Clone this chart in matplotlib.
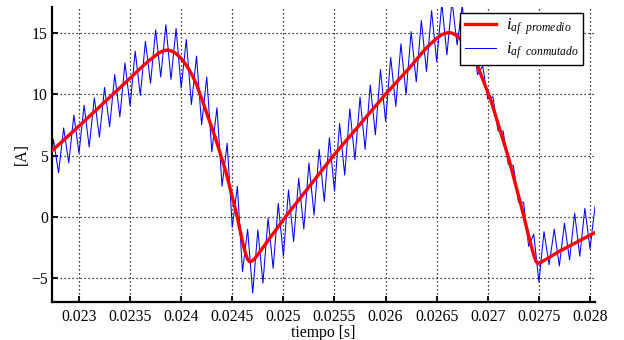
import numpy as np
import matplotlib
matplotlib.use("Agg")
import matplotlib.pyplot as plt

plt.rcParams['font.family'] = ['Liberation Serif', 'DejaVu Serif']
plt.rcParams['mathtext.fontset'] = 'custom'
plt.rcParams['mathtext.it'] = 'Liberation Serif:italic'
plt.rcParams['mathtext.rm'] = 'Liberation Serif'

# averaged current
t_prom = [0.02273, 0.02300, 0.02325, 0.02350, 0.02360, 0.02368, 0.02375, 0.02379,
          0.02383, 0.02387, 0.02391, 0.02395, 0.02399, 0.02403, 0.02407, 0.02411,
          0.02415, 0.02424, 0.02434, 0.02444, 0.02454, 0.02460, 0.02463, 0.02465,
          0.02467, 0.02469, 0.02472, 0.02502, 0.02549, 0.02600, 0.02624, 0.02637,
          0.02644, 0.02650, 0.02655, 0.02660, 0.02664, 0.02668, 0.02672, 0.02676,
          0.02680, 0.02684, 0.02690, 0.02703, 0.02720, 0.02733, 0.02741, 0.02745,
          0.02747, 0.02749, 0.02752, 0.02770, 0.02810]
i_prom = [5.35, 7.4, 9.35, 11.3, 12.1, 12.7, 13.15, 13.4,
          13.55, 13.6, 13.5, 13.3, 13.0, 12.6, 12.1, 11.5,
          10.8, 8.7, 6.3, 3.6, 0.3, -2.0, -3.0, -3.45,
          -3.65, -3.6, -3.4, 0.0, 5.0, 10.0, 12.2, 13.5,
          14.1, 14.55, 14.85, 15.0, 15.0, 14.85, 14.6, 14.25,
          13.8, 13.3, 12.3, 9.5, 4.9, 0.8, -1.9, -3.1,
          -3.6, -3.8, -3.7, -2.8, -1.05]

# switched current: valleys and peaks of the 10 kHz ripple
t_valle0 = 0.0227
t_pico0 = 0.02275
periodo = 1e-4
i_valle = [2.8, 3.6, 4.4, 5.2, 5.7, 6.5, 7.35, 8.15, 9.05, 9.9,
           10.9, 11.4, 11.2, 10.5, 9.15, 7.5, 5.3, 2.5, -0.85, -4.45,
           -6.2, -5.4, -4.2, -3.2, -2.0, -1.0, 0.15, 1.25, 2.1, 3.4,
           4.65, 5.5, 6.7, 7.8, 9.0, 9.95, 11.0, 11.85, 12.65, 13.2,
           14.0, 13.2, 11.6, 9.6, 7.0, 4.3, 1.2, -2.4, -5.3, -3.9,
           -4.0, -3.5, -3.2, -2.6, -2.4]
i_pico = [6.3, 7.25, 8.3, 9.1, 9.7, 10.55, 11.6, 12.55, 13.5, 14.3,
          15.25, 15.65, 15.35, 14.45, 13.1, 11.4, 8.9, 6.0, 2.5, -1.0,
          -1.05, -0.1, 1.1, 2.2, 3.15, 4.4, 5.5, 6.45, 7.6, 8.8,
          9.75, 10.75, 12.0, 13.0, 14.1, 15.1, 16.0, 16.8, 17.4, 17.6,
          17.2, 14.5, 12.3, 9.8, 7.0, 4.2, 1.2, -1.4, -1.2, -1.0,
          -0.5, 0.3, 0.7, 0.9]

xticks = [0.023, 0.0235, 0.024, 0.0245, 0.025, 0.0255, 0.026, 0.0265, 0.027, 0.0275, 0.028]
xticklabels = ['0.023', '0.0235', '0.024', '0.0245', '0.025', '0.0255',
               '0.026', '0.0265', '0.027', '0.0275', '0.028']
yticks = [-5, 0, 5, 10, 15]

# interleave valleys and peaks
t_conm = []
i_conm = []
for k in range(len(i_valle)):
    t_conm.append(t_valle0 + k * periodo)
    i_conm.append(i_valle[k])
    if k < len(i_pico):
        t_conm.append(t_pico0 + k * periodo)
        i_conm.append(i_pico[k])

fig = plt.figure(figsize=(6.24, 3.4), dpi=100)
ax = fig.add_axes([52 / 624, 38 / 340, 543 / 624, 295 / 340])

l_conm, = ax.plot(t_conm, i_conm, color='#0000ff', lw=0.75, zorder=2)
l_prom, = ax.plot(t_prom, i_prom, color='#ff0000', lw=2.4, zorder=3,
                  solid_joinstyle='round')

ax.set_xlim(0.022736, 0.028049)
ax.set_ylim(-6.93, 17.1)
ax.set_xticks(xticks)
ax.set_xticklabels(xticklabels)
ax.set_yticks(yticks)

ax.grid(True, color='black', linestyle=(0, (1, 2.2)), linewidth=0.9)
ax.set_axisbelow(True)

for s in ['top', 'right']:
    ax.spines[s].set_visible(False)
for s in ['left', 'bottom']:
    ax.spines[s].set_linewidth(1.6)

ax.tick_params(direction='in', length=4, width=1.3, labelsize=11.3)
ax.tick_params(axis='x', pad=5)
ax.tick_params(axis='y', pad=3)

ax.set_xlabel('tiempo [s]', fontsize=11.3, labelpad=0)
ax.set_ylabel('[A]', fontsize=11.3, labelpad=1)

leg = ax.legend([l_prom, l_conm],
                [r'$i_{af\ \ promedio}$', r'$i_{af\ \ conmutado}$'],
                loc='upper right', bbox_to_anchor=(0.978, 0.981),
                borderaxespad=0, fancybox=False, framealpha=1,
                edgecolor='black', fontsize=12, handlelength=1.9,
                labelspacing=0.2, borderpad=0.25, handletextpad=0.6)
leg.get_frame().set_linewidth(1.0)

fig.savefig('out.png', dpi=100)
